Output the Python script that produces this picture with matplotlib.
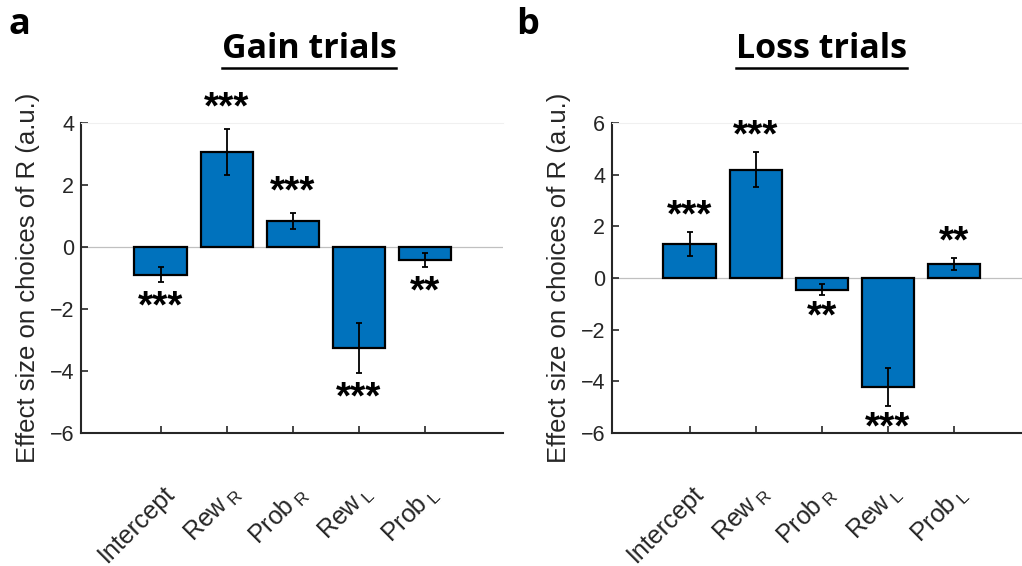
import matplotlib
matplotlib.use("Agg")
import matplotlib.pyplot as plt
from matplotlib.lines import Line2D
from matplotlib.transforms import ScaledTranslation
import numpy as np

plt.rcParams['font.family'] = ['Liberation Sans', 'DejaVu Sans']
plt.rcParams['mathtext.fontset'] = 'custom'
plt.rcParams['mathtext.rm'] = 'Liberation Sans'

labels = ['Intercept', r'Rew$\,_\mathregular{R}$', r'Prob$\,_\mathregular{R}$',
          r'Rew$\,_\mathregular{L}$', r'Prob$\,_\mathregular{L}$']

gain_vals = [-0.90, 3.06, 0.84, -3.26, -0.42]
gain_err = [0.24, 0.75, 0.26, 0.80, 0.22]
gain_stars = ['***', '***', '***', '***', '**']

loss_vals = [1.32, 4.19, -0.46, -4.22, 0.54]
loss_err = [0.48, 0.68, 0.21, 0.73, 0.23]
loss_stars = ['***', '***', '**', '***', '**']

blue = '#0072BD'
dark = '#262626'
star_fs = 28


def draw_panel(fig, ax, vals, errs, stars, ylim, yticks, xlim):
    x = np.arange(1, len(vals) + 1)
    ax.axhline(0, color='#c0c0c0', lw=0.9, zorder=0)
    ax.bar(x, vals, width=0.8, color=blue, edgecolor='black', linewidth=1.6, zorder=2)
    ax.errorbar(x, vals, yerr=errs, fmt='none', ecolor='black', elinewidth=1.3,
                capsize=2.5, capthick=1.3, zorder=3)
    for xi, v, e, s in zip(x, vals, errs, stars):
        # stars sit a fixed data distance beyond the error bar
        y = v + e + 0.95 if v >= 0 else v - e - 0.52
        ax.annotate(s, (xi, y), xytext=(0, -0.49 * star_fs), textcoords='offset points',
                    ha='center', va='baseline', fontsize=star_fs, fontweight='bold',
                    color='black', annotation_clip=False)
    ax.set_xlim(*xlim)
    ax.set_ylim(*ylim)
    ax.set_yticks(yticks)
    ax.set_xticks(x)
    ax.set_xticklabels(labels, rotation=45, ha='right', va='center', rotation_mode='anchor',
                       fontsize=18)
    ax.tick_params(direction='in', length=5, width=1.2, colors=dark, labelsize=15.5, pad=5)
    ax.tick_params(axis='x', labelsize=18, pad=41)
    shift = ScaledTranslation(10 / 100, 0, fig.dpi_scale_trans)
    for lab in ax.get_xticklabels():
        lab.set_transform(lab.get_transform() + shift)
    ax.spines['right'].set_visible(False)
    ax.spines['top'].set_color('#f0f0f0')
    ax.spines['top'].set_linewidth(0.8)
    for side in ['left', 'bottom']:
        ax.spines[side].set_color(dark)
        ax.spines[side].set_linewidth(1.5)
    ax.set_ylabel('Effect size on choices of R (a.u.)', fontsize=18.5, color=dark, labelpad=7)


fig = plt.figure(figsize=(10.22, 5.66), dpi=100)
W, H = 1022, 566
ax1 = fig.add_axes([81 / W, 1 - 433 / H, 422 / W, 310 / H])
ax2 = fig.add_axes([612 / W, 1 - 433 / H, 410 / W, 310 / H])

draw_panel(fig, ax1, gain_vals, gain_err, gain_stars, (-6, 4), [-6, -4, -2, 0, 2, 4], (-0.21, 6.18))
draw_panel(fig, ax2, loss_vals, loss_err, loss_stars, (-6, 6), [-6, -4, -2, 0, 2, 4, 6], (-0.18, 6.03))

bold_family = ['Open Sans', 'DejaVu Sans']
fig.text(8 / W, 1 - 34 / H, 'a', fontsize=26, fontweight='bold', family=bold_family,
         va='baseline', ha='left')
fig.text(516 / W, 1 - 34 / H, 'b', fontsize=26, fontweight='bold', family=bold_family,
         va='baseline', ha='left')

titles = []
for cx, t in [(309, 'Gain trials'), (821, 'Loss trials')]:
    titles.append(fig.text(cx / W, 1 - 58 / H, t, fontsize=24.5, fontweight='bold',
                           family=bold_family, ha='center', va='baseline'))

fig.canvas.draw()
r = fig.canvas.get_renderer()
for t in titles:
    bb = t.get_window_extent(r)
    yline = 1 - 68 / H
    fig.add_artist(Line2D([bb.x0 / W, bb.x1 / W], [yline, yline], color='black', lw=1.8))

fig.savefig('out.png', dpi=100)
